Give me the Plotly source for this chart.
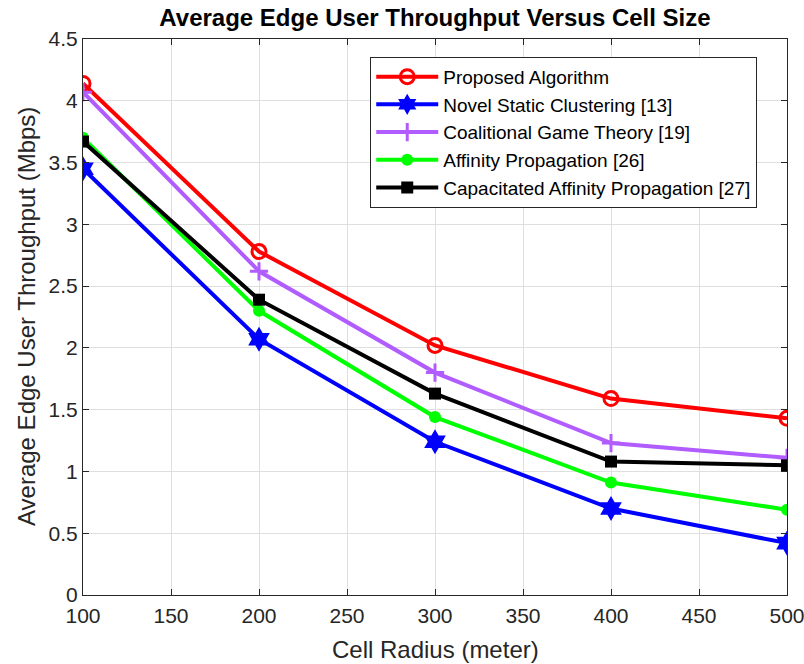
import plotly.graph_objects as go

radius = [100, 200, 300, 400, 500]
proposed = [4.14, 2.78, 2.02, 1.59, 1.43]
novel_static = [3.45, 2.07, 1.24, 0.70, 0.42]
coalitional = [4.07, 2.62, 1.80, 1.23, 1.11]
affinity = [3.70, 2.30, 1.44, 0.91, 0.69]
capacitated = [3.67, 2.39, 1.63, 1.08, 1.05]

x_ticks = [100, 150, 200, 250, 300, 350, 400, 450, 500]
y_ticks = [0, 0.5, 1, 1.5, 2, 2.5, 3, 3.5, 4, 4.5]

series = [
    ("Proposed Algorithm", proposed, "#FF0000",
     dict(symbol="circle-open", size=14, line=dict(width=3, color="#FF0000"))),
    ("Novel Static Clustering [13]", novel_static, "#0000FF",
     dict(symbol="hexagram", size=19, color="#0000FF", line=dict(width=0))),
    ("Coalitional Game Theory [19]", coalitional, "#B15CFF",
     dict(symbol="cross-thin-open", size=13, line=dict(width=3, color="#B15CFF"))),
    ("Affinity Propagation [26]", affinity, "#00FF00",
     dict(symbol="circle", size=12, color="#00FF00", line=dict(width=0))),
    ("Capacitated Affinity Propagation [27]", capacitated, "#000000",
     dict(symbol="square", size=12, color="#000000", line=dict(width=0))),
]

fig = go.Figure()
for name, vals, col, mk in series:
    fig.add_trace(go.Scatter(x=radius, y=vals, name=name, mode="lines+markers",
                             line=dict(color=col, width=4), marker=mk))

font = "Liberation Sans, Arial, sans-serif"
axc = "#262626"
fig.update_layout(
    width=804, height=664,
    margin=dict(l=83, r=17, t=39, b=69, autoexpand=False),
    paper_bgcolor="white", plot_bgcolor="white",
    title=dict(text="<b>Average Edge User Throughput Versus Cell Size</b>",
               xref="paper", x=0.5, xanchor="center",
               yref="container", y=1 - 18 / 664, yanchor="middle",
               font=dict(family=font, size=24, color="black")),
    font=dict(family=font, color=axc),
    showlegend=True,
    legend=dict(x=0.408, y=0.968, xanchor="left", yanchor="top",
                bgcolor="white", bordercolor=axc, borderwidth=1,
                font=dict(family=font, size=19, color="black"),
                tracegroupgap=0, itemwidth=62),
    annotations=[
        dict(text="Cell Radius (meter)", xref="paper", yref="paper", x=0.5, y=(595 - 649) / 556,
             xanchor="center", yanchor="middle", showarrow=False,
             font=dict(family=font, size=24, color=axc)),
        dict(text="Average Edge User Throughput (Mbps)", xref="paper", yref="paper",
             x=(26 - 83) / 704, y=0.5, xanchor="center", yanchor="middle", textangle=-90,
             showarrow=False, font=dict(family=font, size=24, color=axc)),
    ],
)
fig.update_xaxes(range=[100, 500], tickvals=x_ticks, showgrid=True, gridcolor="#DFDFDF", gridwidth=1,
                 showline=True, linecolor=axc, linewidth=1, mirror="ticks",
                 ticks="inside", ticklen=6, tickcolor=axc, zeroline=False, automargin=False,
                 ticklabeloverflow="allow", ticklabelstandoff=2,
                 tickfont=dict(size=21, color=axc))
fig.update_yaxes(range=[0, 4.5], tickvals=y_ticks, showgrid=True, gridcolor="#DFDFDF", gridwidth=1,
                 showline=True, linecolor=axc, linewidth=1, mirror="ticks",
                 ticks="inside", ticklen=6, tickcolor=axc, zeroline=False, automargin=False,
                 ticklabeloverflow="allow",
                 tickfont=dict(size=21, color=axc))

fig.write_html("out.html", config={"displayModeBar": False},
               post_script="document.body.style.margin='0';document.body.style.overflow='hidden';")
